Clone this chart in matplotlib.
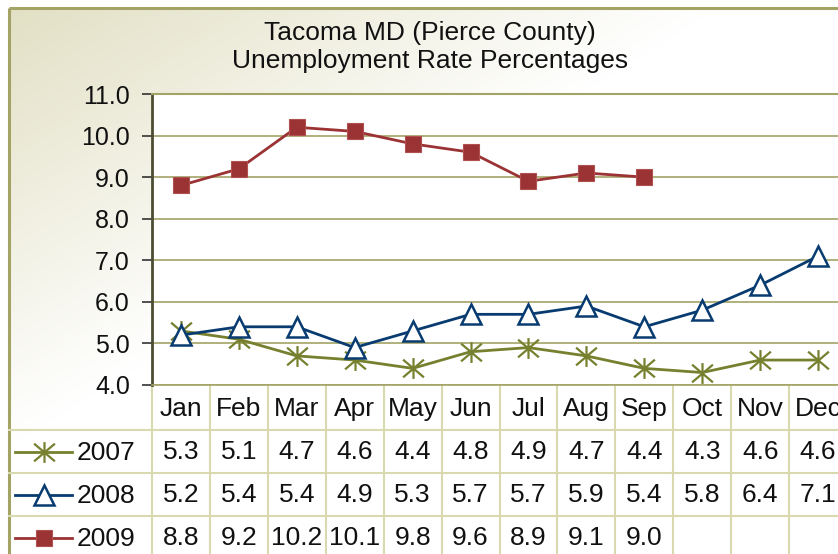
import numpy as np
import matplotlib
matplotlib.use("Agg")
import matplotlib.pyplot as plt
from matplotlib.path import Path
from matplotlib.transforms import blended_transform_factory
from matplotlib.colors import to_rgb

plt.rcParams['font.family'] = ['Liberation Sans', 'DejaVu Sans']

# ---- data ----
title = "Tacoma MD (Pierce County)\nUnemployment Rate Percentages"
months = ["Jan", "Feb", "Mar", "Apr", "May", "Jun", "Jul", "Aug", "Sep", "Oct", "Nov", "Dec"]
series_names = ["2007", "2008", "2009"]
y2007 = [5.3, 5.1, 4.7, 4.6, 4.4, 4.8, 4.9, 4.7, 4.4, 4.3, 4.6, 4.6]
y2008 = [5.2, 5.4, 5.4, 4.9, 5.3, 5.7, 5.7, 5.9, 5.4, 5.8, 6.4, 7.1]
y2009 = [8.8, 9.2, 10.2, 10.1, 9.8, 9.6, 8.9, 9.1, 9.0]
yticks = [4.0, 5.0, 6.0, 7.0, 8.0, 9.0, 10.0, 11.0]

W, H = 838, 554
fig = plt.figure(figsize=(W / 100, H / 100), dpi=100)

# background axes in pixel coordinates (y downwards)
bg = fig.add_axes([0, 0, 1, 1], zorder=0)
bg.set_xlim(0, W)
bg.set_ylim(H, 0)
bg.axis('off')

gx, gy = np.meshgrid(np.linspace(0, 1, 300), np.linspace(0, 1, 200))
t = np.clip(gx / 0.85 + gy / 0.8, 0, 1)
c0 = np.array(to_rgb('#e2e0c4'))
c1 = np.array([1, 1, 1])
img = c0[None, None, :] * (1 - t[..., None]) + c1[None, None, :] * t[..., None]
bg.imshow(img, extent=[9, W, H, 8], aspect='auto', interpolation='bilinear', zorder=0)
border = '#a3a366'
bg.plot([9, 9], [8, H], color=border, lw=2.2, zorder=2, solid_capstyle='butt')
bg.plot([9, W], [8, 8], color=border, lw=2.2, zorder=2, solid_capstyle='butt')

bg.text(430, 47, title, ha='center', va='center', fontsize=19, linespacing=1.2, color='#111111')

# main plot axes
left_px, right_px, top_px, bot_px = 152, 847, 94, 385
ax = fig.add_axes([left_px / W, 1 - bot_px / H, (right_px - left_px) / W, (bot_px - top_px) / H], zorder=2)
ax.set_facecolor('white')
x = np.arange(len(months))
ax.set_xlim(-0.5, len(months) - 0.5)
ax.set_ylim(yticks[0], yticks[-1])
ax.set_yticks(yticks)
ax.set_yticklabels([f"{v:.1f}" for v in yticks], fontsize=18, color='#111111')
ax.set_xticks([])
ax.yaxis.grid(True, color='#a3a366', lw=1.2)
ax.set_axisbelow(True)
ax.tick_params(axis='y', direction='out', length=7, width=1.2, color='#333333', pad=9)
ax.spines['left'].set_color('#4d4d33')
ax.spines['left'].set_linewidth(2)
ax.spines['top'].set_color('#a3a366')
ax.spines['top'].set_linewidth(1.5)
ax.spines['bottom'].set_color('#a3a366')
ax.spines['bottom'].set_linewidth(1.2)
ax.spines['right'].set_visible(False)

star = Path([(0, -1), (0, 1), (-1, -0.85), (1, 0.85), (-1, 0.85), (1, -0.85)],
            [Path.MOVETO, Path.LINETO, Path.MOVETO, Path.LINETO, Path.MOVETO, Path.LINETO])

colors = ['#76802e', '#083b70', '#9b3234']
styles = [
    dict(marker=star, ms=15, mew=1.6, mec=colors[0], mfc='none'),
    dict(marker='^', ms=14, mew=1.8, mec=colors[1], mfc='white'),
    dict(marker='s', ms=12, mew=0.8, mec='#b05050', mfc=colors[2]),
]
data = [y2007, y2008, y2009]
for vals, col, st in zip(data, colors, styles):
    ax.plot(x[:len(vals)], vals, color=col, lw=2, clip_on=False, zorder=3, **st)

# data table
tr = blended_transform_factory(ax.transData, bg.transData)
grid_c = '#d9d9b0'
row_lines = [430, 473, 516]
for yl in row_lines:
    bg.plot([9, W], [yl, yl], color=grid_c, lw=1.5, zorder=2)
for i in range(len(months) + 1):
    bg.plot([i - 0.5, i - 0.5], [bot_px, H], color=grid_c, lw=1.5, transform=tr, zorder=2, clip_on=False)

fs_tab = 19
header_y = 409
row_y = [452, 495, 538]
for i, m in enumerate(months):
    bg.text(i, header_y, m, transform=tr, ha='center', va='center', fontsize=fs_tab, color='#111111')
for r, vals in enumerate(data):
    for i, v in enumerate(vals):
        bg.text(i, row_y[r], f"{v:.1f}", transform=tr, ha='center', va='center', fontsize=fs_tab, color='#111111')
    # legend key
    bg.plot([15, 72], [row_y[r], row_y[r]], color=colors[r], lw=2, zorder=3)
    st = dict(styles[r])
    bg.plot([43.5], [row_y[r]], color=colors[r], lw=0, zorder=4, **st)
    bg.text(77, row_y[r] + 1, series_names[r], ha='left', va='center', fontsize=fs_tab, color='#111111')

fig.savefig('out.png', dpi=100)
